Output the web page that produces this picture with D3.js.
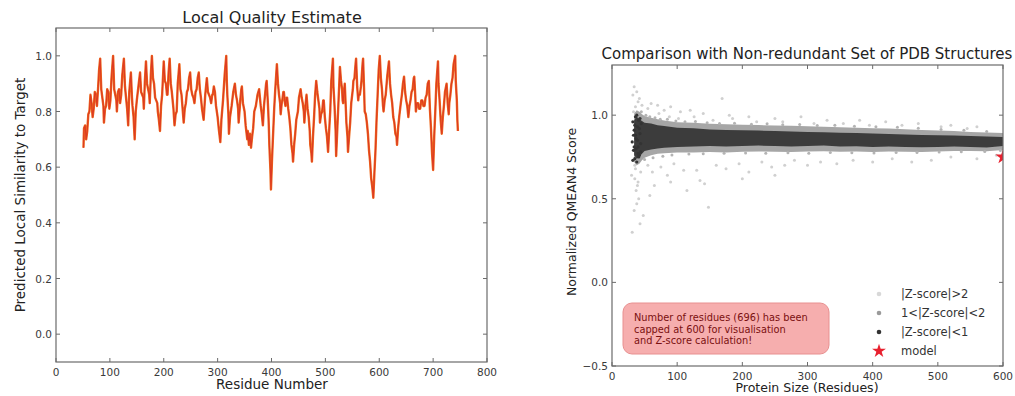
<!DOCTYPE html>
<html>
<head>
<meta charset="utf-8">
<script src="https://cdn.jsdelivr.net/npm/d3@7"></script>
<style>
  body { margin: 0; background: #fff; }
  svg { display: block; font-family: "DejaVu Sans", sans-serif; }
</style>
</head>
<body>
<svg id="chart" width="1015" height="396"></svg>
<script>
// ---- Local quality profile (residue number, predicted local similarity) ----
const residues = [51,52,54,56,58,60,62,64,66,68,70,72,74,76,78,80,82,84,86,88,89,91,93,95,97,99,101,103,106,108,110,112,113,115,117,119,121,123,126,128,130,132,134,136,139,141,142,144,146,148,150,153,156,158,160,162,163,165,167,169,171,173,174,176,178,180,182,184,186,188,189,191,193,195,197,199,200,202,204,206,207,209,211,213,215,218,220,222,224,226,229,231,233,235,237,239,241,243,245,247,249,251,253,255,257,259,261,263,265,267,269,271,274,277,280,282,284,286,288,290,291,293,295,297,300,302,305,307,310,313,316,317,318,320,321,323,326,329,332,334,336,338,339,341,342,344,345,347,350,352,355,356,358,360,362,364,366,368,371,374,377,379,380,382,384,386,388,390,391,393,394,395,396,398,399,401,403,405,407,409,410,412,414,416,417,419,420,422,423,425,426,428,429,431,433,435,437,439,440,442,444,446,449,451,454,456,458,460,461,463,465,467,469,471,472,474,475,477,479,481,483,485,487,489,490,492,494,496,497,499,501,503,505,507,509,511,514,515,517,519,520,522,524,526,527,529,531,532,533,535,536,538,539,541,542,544,546,548,551,552,554,556,557,559,561,562,564,566,567,569,570,572,573,575,577,579,581,583,585,587,589,591,593,595,597,599,601,603,605,607,608,610,612,615,618,620,622,624,626,628,630,632,633,635,637,640,642,644,646,648,650,652,654,656,658,660,662,664,665,667,668,670,672,674,676,678,680,682,684,686,688,690,692,694,696,698,700,702,704,706,709,710,712,714,716,718,720,722,725,727,729,730,732,734,736,738,741,742,744,745,746];
const lqScores = [0.67,0.74,0.75,0.70,0.73,0.79,0.80,0.86,0.83,0.78,0.81,0.87,0.86,0.82,0.88,0.95,0.99,0.88,0.85,0.82,0.76,0.81,0.82,0.88,0.87,0.81,0.84,0.92,1.00,0.88,0.86,0.84,0.80,0.87,0.88,0.83,0.86,0.93,0.99,0.89,0.85,0.81,0.75,0.87,0.94,0.85,0.82,0.78,0.70,0.80,0.84,0.89,0.94,0.87,0.86,0.85,0.81,0.91,0.98,0.90,0.88,0.86,0.83,0.93,1.00,0.92,0.90,0.85,0.84,0.83,0.80,0.77,0.73,0.82,0.86,0.94,0.98,0.91,0.90,0.86,0.86,0.94,0.99,0.90,0.87,0.81,0.75,0.79,0.80,0.90,0.97,0.88,0.86,0.81,0.76,0.81,0.83,0.87,0.88,0.92,0.94,0.88,0.86,0.85,0.83,0.87,0.88,0.92,0.94,0.88,0.85,0.81,0.77,0.86,0.92,0.87,0.86,0.85,0.83,0.86,0.86,0.89,0.87,0.82,0.78,0.74,0.69,0.77,0.84,0.93,1.00,0.91,0.86,0.79,0.72,0.78,0.82,0.87,0.90,0.86,0.84,0.81,0.76,0.81,0.84,0.88,0.89,0.83,0.80,0.75,0.70,0.73,0.68,0.72,0.67,0.71,0.74,0.80,0.82,0.86,0.88,0.84,0.82,0.79,0.75,0.82,0.86,0.90,0.91,0.84,0.80,0.75,0.68,0.59,0.52,0.63,0.72,0.81,0.88,0.94,0.97,0.90,0.86,0.83,0.79,0.83,0.84,0.87,0.87,0.83,0.82,0.85,0.85,0.81,0.78,0.74,0.68,0.65,0.62,0.68,0.72,0.77,0.80,0.85,0.88,0.85,0.83,0.80,0.76,0.82,0.86,0.81,0.78,0.73,0.68,0.65,0.62,0.71,0.78,0.86,0.91,0.87,0.84,0.81,0.76,0.79,0.80,0.84,0.84,0.78,0.74,0.71,0.655,0.73,0.80,0.91,0.99,0.89,0.82,0.73,0.64,0.73,0.82,0.91,0.96,0.91,0.88,0.84,0.83,0.88,0.90,0.81,0.76,0.71,0.655,0.71,0.76,0.83,0.88,0.91,0.92,0.97,0.99,0.89,0.84,0.86,0.86,0.89,0.91,0.97,0.99,0.87,0.80,0.79,0.76,0.72,0.66,0.62,0.56,0.53,0.49,0.58,0.66,0.77,0.86,0.95,1.00,0.92,0.88,0.82,0.80,0.84,0.86,0.93,0.98,0.90,0.86,0.83,0.78,0.76,0.72,0.71,0.68,0.74,0.78,0.83,0.86,0.90,0.925,0.87,0.84,0.82,0.78,0.82,0.84,0.87,0.88,0.92,0.925,0.85,0.80,0.83,0.83,0.81,0.81,0.84,0.84,0.82,0.82,0.85,0.86,0.90,0.91,0.81,0.74,0.65,0.59,0.71,0.80,0.90,0.98,0.90,0.84,0.77,0.72,0.78,0.82,0.87,0.90,0.83,0.79,0.83,0.86,0.90,0.92,0.97,1.00,0.91,0.84,0.77,0.73];
const lqXTicks = [0,100,200,300,400,500,600,700,800];
const lqYTicks = [0.0,0.2,0.4,0.6,0.8,1.0];

// ---- Reference set: QMEAN4 spread against protein size ----
const sizeBins = [34,38,42,46,50,60,70,80,100,125,150,175,200,225,250,275,300,325,350,375,400,425,450,475,500,525,550,575,600];
const coreLow  = [0.76,0.74,0.75,0.77,0.785,0.795,0.80,0.805,0.81,0.812,0.815,0.812,0.815,0.818,0.815,0.812,0.815,0.818,0.812,0.814,0.81,0.812,0.81,0.808,0.81,0.812,0.81,0.806,0.815];
const coreHigh = [0.97,0.99,0.975,0.965,0.955,0.95,0.94,0.935,0.925,0.922,0.915,0.912,0.91,0.908,0.905,0.903,0.90,0.898,0.895,0.893,0.89,0.888,0.885,0.882,0.88,0.878,0.875,0.872,0.87];
const midLow   = [0.72,0.70,0.71,0.73,0.745,0.76,0.77,0.772,0.776,0.777,0.78,0.777,0.781,0.783,0.781,0.779,0.782,0.784,0.781,0.782,0.78,0.782,0.781,0.779,0.782,0.785,0.786,0.784,0.792];
const midHigh  = [1.01,1.03,1.02,1.005,0.995,0.985,0.975,0.968,0.958,0.954,0.948,0.946,0.943,0.941,0.938,0.936,0.933,0.931,0.928,0.925,0.922,0.92,0.916,0.912,0.908,0.905,0.9,0.896,0.893];
const columnDotSize  = [31,32,33,34,35,36,37,38,39,40,41,42,43,44,45,32,34,36,38,40,42,44,33,35,37,39,41,43];
const columnDotScore = [0.84,0.96,0.79,0.91,0.74,0.99,0.86,0.72,0.93,0.81,0.97,0.76,0.89,0.83,0.95,0.73,0.81,0.88,1.00,0.77,0.92,0.78,0.88,0.94,0.80,0.85,0.75,0.98];
const outlierSize  = [32,34,36,38,40,33,42,35,37,39,34,31,41,44,36,43,38,46,30,35,40,55,60,70,80,90,105,120,140,169,180,210,250,290,330,380,420,470,520,560,55,62,75,85,95,110,130,135,142,148,160,175,195,210,230,245,265,280,300,320,345,370,400,430,460,490,520,560,590,65,90,200,250,115,58,48,72,88,102,126,155,185,222,262,310,355,395,445,505,545];
const outlierScore = [1.12,1.17,1.05,1.14,1.08,1.02,1.10,0.62,0.55,0.58,0.43,0.30,0.50,0.66,0.68,0.35,0.47,1.06,0.64,0.70,0.60,1.04,1.07,1.06,1.03,1.05,1.02,1.03,1.01,1.10,1.00,0.99,0.98,0.99,0.97,0.97,0.96,0.95,0.94,0.93,0.70,0.66,0.69,0.64,0.71,0.67,0.67,0.61,0.59,0.45,0.70,0.68,0.71,0.66,0.72,0.69,0.70,0.73,0.70,0.72,0.71,0.73,0.72,0.74,0.72,0.73,0.75,0.74,0.76,0.58,0.60,0.62,0.64,0.55,0.52,0.40,1.01,0.99,0.98,0.99,0.97,0.98,0.96,0.96,0.95,0.95,0.94,0.94,0.93,0.92];
const midDotSize  = [45,52,58,66,74,85,98,112,128,146,165,188,214,238,262,288,315,342,372,405,438,470,505,540,575,50,63,78,92,118,140,172,205,236,270,302,335,368,402,436,468,502,536,572,596];
const midDotScore = [1.02,1.0,0.99,0.985,0.975,0.975,0.965,0.96,0.962,0.955,0.95,0.952,0.946,0.948,0.942,0.944,0.938,0.94,0.934,0.93,0.927,0.922,0.915,0.91,0.902,0.735,0.745,0.755,0.762,0.768,0.77,0.772,0.774,0.772,0.775,0.773,0.776,0.775,0.774,0.776,0.776,0.779,0.781,0.783,0.788];
const modelSize = 600, modelScore = 0.75;
const qmXTicks = [0,100,200,300,400,500,600];
const qmYTicks = [-0.5,0.0,0.5,1.0];
const legendLabels = ["|Z-score|>2", "1<|Z-score|<2", "|Z-score|<1", "model"];
const noteLines = ["Number of residues (696) has been", "capped at 600 for visualisation", "and Z-score calculation!"];

const svg = d3.select("#chart");
const frameColor = "#6b6b6b", tickText = "#3a3a3a";

// Draws a matplotlib-style frame with inward ticks on all four sides
function frame(g, x, y, xTicks, yTicks, yFmt) {
  const [x0, x1] = x.range(), [y0, y1] = y.range();
  g.append("rect").attr("x", x0).attr("y", y1).attr("width", x1 - x0).attr("height", y0 - y1)
    .attr("fill", "none").attr("stroke", frameColor).attr("stroke-width", 1.2);
  xTicks.forEach(t => {
    g.append("line").attr("x1", x(t)).attr("x2", x(t)).attr("y1", y0).attr("y2", y0 - 4).attr("stroke", frameColor);
    g.append("line").attr("x1", x(t)).attr("x2", x(t)).attr("y1", y1).attr("y2", y1 + 4).attr("stroke", frameColor);
    g.append("text").attr("x", x(t)).attr("y", y0 + 14).attr("text-anchor", "middle")
      .attr("font-size", 10.5).attr("fill", tickText).text(t);
  });
  yTicks.forEach(t => {
    g.append("line").attr("x1", x0).attr("x2", x0 + 4).attr("y1", y(t)).attr("y2", y(t)).attr("stroke", frameColor);
    g.append("line").attr("x1", x1).attr("x2", x1 - 4).attr("y1", y(t)).attr("y2", y(t)).attr("stroke", frameColor);
    g.append("text").attr("x", x0 - 4).attr("y", y(t) + 4).attr("text-anchor", "end")
      .attr("font-size", 10.5).attr("fill", tickText).text(yFmt(t));
  });
}

// ---------- Left panel: Local Quality Estimate ----------
const xL = d3.scaleLinear().domain([0, 800]).range([56, 487]);
const yL = d3.scaleLinear().domain([-0.1, 1.1]).range([362, 28]);
const gL = svg.append("g");
const lqLine = d3.line().x((d, i) => xL(residues[i])).y(d => yL(d));
gL.append("path").datum(lqScores).attr("d", lqLine)
  .attr("fill", "none").attr("stroke", "#ee6a1e").attr("stroke-width", 2.4).attr("stroke-linejoin", "round");
gL.append("path").datum(lqScores).attr("d", lqLine)
  .attr("fill", "none").attr("stroke", "#dd3a22").attr("stroke-width", 1.1).attr("stroke-linejoin", "round");
frame(gL, xL, yL, lqXTicks, lqYTicks, d3.format(".1f"));
gL.append("text").attr("x", 272).attr("y", 23).attr("text-anchor", "middle")
  .attr("font-size", 16).attr("fill", "#222").text("Local Quality Estimate");
gL.append("text").attr("x", 272).attr("y", 389).attr("text-anchor", "middle")
  .attr("font-size", 13.5).attr("fill", "#222").text("Residue Number");
gL.append("text").attr("transform", "translate(25,195) rotate(-90)").attr("text-anchor", "middle")
  .attr("font-size", 13.5).attr("fill", "#222").text("Predicted Local Similarity to Target");

// ---------- Right panel: comparison with PDB reference set ----------
const xR = d3.scaleLinear().domain([0, 600]).range([612, 1003]);
const yR = d3.scaleLinear().domain([-0.5, 1.3]).range([366, 65]);
const gR = svg.append("g");
svg.append("clipPath").attr("id", "plotClip").append("rect")
  .attr("x", 612).attr("y", 65).attr("width", 391).attr("height", 301);
const inner = gR.append("g").attr("clip-path", "url(#plotClip)");

inner.selectAll("circle.out").data(outlierSize).join("circle")
  .attr("cx", d => xR(d)).attr("cy", (d, i) => yR(outlierScore[i])).attr("r", 1.5).attr("fill", "#d0d0d0");
const midArea = d3.area().x((d, i) => xR(sizeBins[i])).y0((d, i) => yR(midLow[i])).y1(d => yR(d));
inner.append("path").datum(midHigh).attr("d", midArea).attr("fill", "#a6a6a6");
inner.selectAll("circle.mid").data(midDotSize).join("circle")
  .attr("cx", d => xR(d)).attr("cy", (d, i) => yR(midDotScore[i])).attr("r", 1.5).attr("fill", "#b4b4b4");
const coreArea = d3.area().x((d, i) => xR(sizeBins[i])).y0((d, i) => yR(coreLow[i])).y1(d => yR(d));
inner.append("path").datum(coreHigh).attr("d", coreArea).attr("fill", "#3c3c3c");
inner.selectAll("circle.col").data(columnDotSize).join("circle")
  .attr("cx", d => xR(d)).attr("cy", (d, i) => yR(columnDotScore[i])).attr("r", 1.6).attr("fill", "#333");
inner.append("path").attr("d", d3.symbol(d3.symbolStar, 70)())
  .attr("transform", `translate(${xR(modelSize)},${yR(modelScore)})`).attr("fill", "#e8202e");

frame(gR, xR, yR, qmXTicks, qmYTicks, d3.format(".1f"));
gR.append("text").attr("x", 807).attr("y", 59).attr("text-anchor", "middle")
  .attr("font-size", 15).attr("fill", "#222").text("Comparison with Non-redundant Set of PDB Structures");
gR.append("text").attr("x", 807).attr("y", 392).attr("text-anchor", "middle")
  .attr("font-size", 12.5).attr("fill", "#222").text("Protein Size (Residues)");
gR.append("text").attr("transform", "translate(576,212) rotate(-90)").attr("text-anchor", "middle")
  .attr("font-size", 12.5).attr("fill", "#222").text("Normalized QMEAN4 Score");

// Note about capping the residue count
gR.append("rect").attr("x", 623).attr("y", 303).attr("width", 206).attr("height", 51).attr("rx", 9)
  .attr("fill", "#f4a0a0").attr("fill-opacity", 0.85).attr("stroke", "#e89090");
noteLines.forEach((t, i) => gR.append("text").attr("x", 634).attr("y", 321 + i * 11.5)
  .attr("font-size", 9.8).attr("fill", "#7a1010").text(t));

// Legend
const legendColors = ["#d8d8d8", "#9a9a9a", "#333"];
legendLabels.forEach((t, i) => {
  const ly = 294 + i * 19;
  if (i < 3) gR.append("circle").attr("cx", 879).attr("cy", ly).attr("r", 2.3).attr("fill", legendColors[i]);
  else gR.append("path").attr("d", d3.symbol(d3.symbolStar, 60)()).attr("transform", `translate(879,${ly})`).attr("fill", "#e8202e");
  gR.append("text").attr("x", 901).attr("y", ly + 4).attr("font-size", 11.5).attr("fill", "#333").text(t);
});
</script>
</body>
</html>
